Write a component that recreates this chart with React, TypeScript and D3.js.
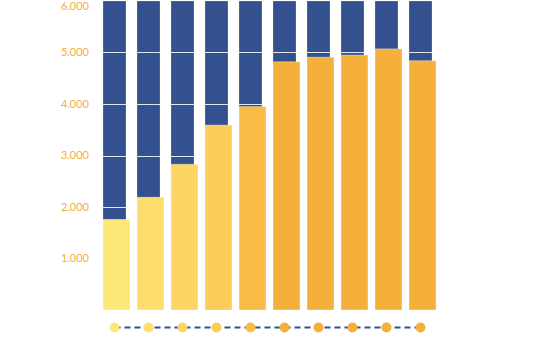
import React, { useEffect, useRef } from 'react';
import * as d3 from 'd3';

const categories = ['1', '2', '3', '4', '5', '6', '7', '8', '9', '10'];
const values = [1760, 2190, 2830, 3590, 3950, 4820, 4910, 4950, 5070, 4840];
const barColors = ['#fce777', '#fcdd6d', '#fcd562', '#fccb58', '#f8bc47', '#f5b03b', '#f5b03b', '#f5b03b', '#f5b03b', '#f5b03b'];
const yTicks = [1000, 2000, 3000, 4000, 5000, 6000];
const yMax = 6000;

const W = 555;
const H = 353;

export default function App() {
  const ref = useRef<SVGSVGElement>(null);

  useEffect(() => {
    if (!ref.current) return;
    const svg = d3.select(ref.current);
    svg.selectAll('*').remove();

    const x = d3.scaleBand<string>().domain(categories).range([103, 436]).paddingInner(7 / 34).paddingOuter(0);
    const y = d3.scaleLinear().domain([0, yMax]).range([310, 1]);
    const bgWidth = x.bandwidth() - 4;

    const loc = d3.formatLocale({ decimal: ',', thousands: '.', grouping: [3], currency: ['', ''] });
    const fmt = loc.format(',');

    // background columns
    svg.append('g').selectAll('rect').data(categories).enter().append('rect')
      .attr('x', d => x(d)!)
      .attr('y', y(yMax))
      .attr('width', bgWidth)
      .attr('height', y(0) - y(yMax))
      .attr('fill', '#34518f')
      .attr('stroke', 'rgba(255,255,255,0.35)')
      .attr('stroke-width', 0.6);

    // gridlines
    svg.append('g').selectAll('line').data(yTicks.filter(t => t < yMax)).enter().append('line')
      .attr('x1', 95).attr('x2', 445)
      .attr('y1', d => Math.round(y(d)) + 0.5).attr('y2', d => Math.round(y(d)) + 0.5)
      .attr('stroke', '#ffffff')
      .attr('stroke-opacity', 0.85)
      .attr('stroke-width', 1.2);

    // value bars
    svg.append('g').selectAll('rect').data(values).enter().append('rect')
      .attr('x', (_, i) => x(categories[i])!)
      .attr('y', d => y(d))
      .attr('width', x.bandwidth())
      .attr('height', d => y(0) - y(d))
      .attr('fill', (_, i) => barColors[i])
      .attr('stroke', 'rgba(255,255,255,0.45)')
      .attr('stroke-width', 0.8);

    // y axis labels
    svg.append('g').selectAll('text').data(yTicks).enter().append('text')
      .attr('x', 89)
      .attr('y', d => Math.max(y(d), 6))
      .attr('dy', '0.35em')
      .attr('text-anchor', 'end')
      .attr('font-family', 'Lato, "Open Sans", sans-serif')
      .attr('font-size', '11px')
      .attr('fill', '#f5ae3b')
      .text(d => fmt(d));

    // bottom timeline
    const dotY = 327.5;
    const cx = (d: string) => x(d)! + bgWidth / 2;
    svg.append('line')
      .attr('x1', cx(categories[0])).attr('x2', cx(categories[categories.length - 1]))
      .attr('y1', dotY).attr('y2', dotY)
      .attr('stroke', '#34518f')
      .attr('stroke-width', 2)
      .attr('stroke-dasharray', '6,4');

    svg.append('g').selectAll('circle').data(categories).enter().append('circle')
      .attr('cx', d => cx(d))
      .attr('cy', dotY)
      .attr('r', 5)
      .attr('fill', (_, i) => barColors[i]);
  }, []);

  return (
    <svg ref={ref} width={W} height={H} style={{ position: 'absolute', left: 0, top: 0, background: '#fff' }} />
  );
}
